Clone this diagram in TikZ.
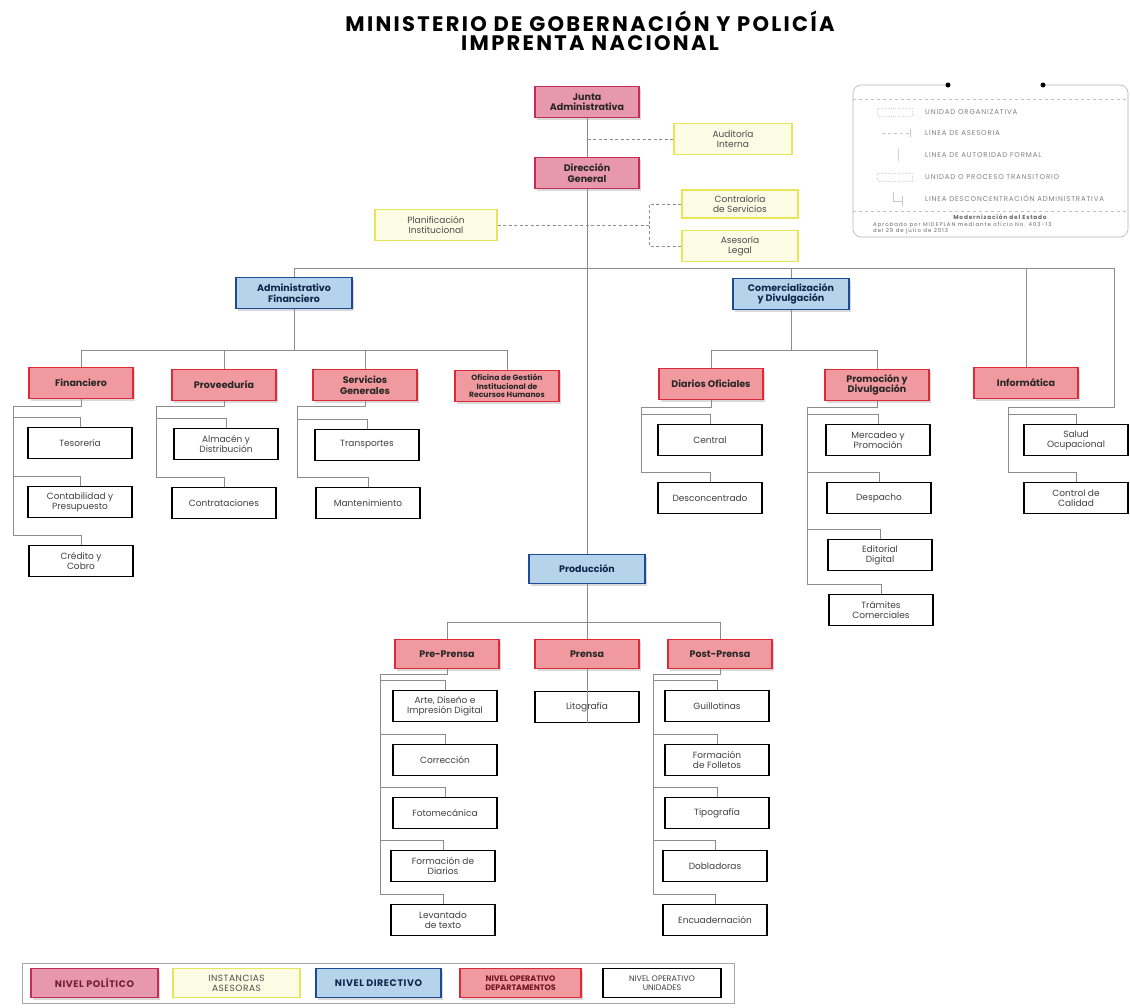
\documentclass[tikz,border=0pt]{standalone}
\usepackage{fontspec}
\setmainfont{Poppins}
\usetikzlibrary{shadows}

\definecolor{rosaF}{HTML}{E898AC}
\definecolor{rosaB}{HTML}{C22E58}
\definecolor{amarF}{HTML}{FCFCE4}
\definecolor{amarB}{HTML}{E6E65A}
\definecolor{azulF}{HTML}{B6D3EC}
\definecolor{azulB}{HTML}{1D4A94}
\definecolor{rojoF}{HTML}{F09AA0}
\definecolor{rojoB}{HTML}{DD2A3A}
\definecolor{lineaC}{HTML}{8C8C8C}

\tikzset{
  caja/.style={draw, align=center, inner sep=1pt, minimum width=104pt, minimum height=31pt,
    font=\fontsize{9}{10}\selectfont},
  sombra/.style={drop shadow={shadow xshift=2pt, shadow yshift=-2pt, opacity=0.3, fill=gray}},
  politico/.style={caja, sombra, fill=rosaF, draw=rosaB, line width=1.6pt, text=black!85,
    font=\fontsize{9.5}{10.5}\selectfont\bfseries},
  asesora/.style={caja, fill=amarF, draw=amarB, line width=1.4pt, text=black!70},
  directivo/.style={caja, sombra, fill=azulF, draw=azulB, line width=1.6pt, text=azulB!50!black,
    font=\fontsize{9.5}{10.5}\selectfont\bfseries},
  depto/.style={caja, sombra, fill=rojoF, draw=rojoB, line width=1.6pt, text=black!85,
    font=\fontsize{9.5}{10.5}\selectfont\bfseries},
  unidad/.style={caja, fill=white, draw=black, line width=1.6pt, text=black!75},
  linea/.style={draw=lineaC, line width=0.7pt},
  lineaasesora/.style={linea, dash pattern=on 3pt off 2.5pt},
  leyenda/.style={font=\fontsize{7}{8}\selectfont\addfontfeature{LetterSpace=12}, text=black!50,
    anchor=west, inner sep=0pt},
  nivel/.style={minimum height=29pt, font=\fontsize{9.5}{10.5}\selectfont\bfseries\addfontfeature{LetterSpace=6},
    drop shadow={opacity=0}},
}

\begin{document}
\begin{tikzpicture}[x=1pt,y=-1pt]
  \useasboundingbox (0,0) rectangle (1130,1007);

  % Titulo
  \node[align=center, font=\fontsize{21}{19}\selectfont\bfseries\addfontfeature{LetterSpace=11}] (titulo) at (590,31)
    {MINISTERIO DE GOBERNACIÓN Y POLICÍA\\IMPRENTA NACIONAL};

  % Nivel politico e instancias asesoras
  \node[politico] (junta) at (587,102) {Junta\\Administrativa};
  \node[politico] (direccion) at (587,173) {Dirección\\General};
  \node[asesora, minimum width=118pt] (auditoria) at (733,139) {Auditoría\\Interna};
  \node[asesora, minimum width=116pt, minimum height=28pt] (contraloria) at (740,204) {Contraloría\\de Servicios};
  \node[asesora, minimum width=122pt] (planificacion) at (436,225) {Planificación\\Institucional};
  \node[asesora, minimum width=116pt] (asesoria) at (740,246) {Asesoría\\Legal};

  % Nivel directivo
  \node[directivo, minimum width=116pt] (admin) at (294,293) {Administrativo\\Financiero};
  \node[directivo, minimum width=116pt] (comercial) at (791,294) {Comercialización\\y Divulgación};
  \node[directivo, minimum width=116pt, minimum height=29pt] (produccion) at (587,569) {Producción};

  % Departamentos
  \node[depto] (financiero) at (81,383) {Financiero};
  \node[depto] (proveeduria) at (224,385) {Proveeduría};
  \node[depto] (servicios) at (365,385) {Servicios\\Generales};
  \node[depto, font=\fontsize{7.6}{8.4}\selectfont\bfseries] (oficina) at (507,386)
    {Oficina de Gestión\\Institucional de\\Recursos Humanos};
  \node[depto] (diarios) at (711,384) {Diarios Oficiales};
  \node[depto] (promocion) at (877,385) {Promoción y\\Divulgación};
  \node[depto] (informatica) at (1026,383) {Informática};
  \node[depto, minimum height=29pt] (preprensa) at (447,654) {Pre-Prensa};
  \node[depto, minimum height=29pt] (prensa) at (587,654) {Prensa};
  \node[depto, minimum height=29pt] (postprensa) at (720,654) {Post-Prensa};

  % Unidades
  \node[unidad] (tesoreria) at (80,443) {Tesorería};
  \node[unidad] (contabilidad) at (80,502) {Contabilidad y\\Presupuesto};
  \node[unidad] (credito) at (81,561) {Crédito y\\Cobro};
  \node[unidad] (almacen) at (226,444) {Almacén y\\Distribución};
  \node[unidad] (contrataciones) at (224,503) {Contrataciones};
  \node[unidad] (transportes) at (367,445) {Transportes};
  \node[unidad] (mantenimiento) at (368,503) {Mantenimiento};
  \node[unidad] (central) at (710,440) {Central};
  \node[unidad] (desconcentrado) at (710,498) {Desconcentrado};
  \node[unidad] (mercadeo) at (878,440) {Mercadeo y\\Promoción};
  \node[unidad] (despacho) at (879,498) {Despacho};
  \node[unidad] (editorial) at (880,555) {Editorial\\Digital};
  \node[unidad] (tramites) at (881,610) {Trámites\\Comerciales};
  \node[unidad] (salud) at (1076,440) {Salud\\Ocupacional};
  \node[unidad] (calidad) at (1076,498) {Control de\\Calidad};
  \node[unidad] (litografia) at (587,707) {Litografía};
  \node[unidad] (arte) at (445,706) {Arte, Diseño e\\Impresión Digital};
  \node[unidad] (correccion) at (445,760) {Corrección};
  \node[unidad] (fotomecanica) at (445,813) {Fotomecánica};
  \node[unidad] (fdiarios) at (443,866) {Formación de\\Diarios};
  \node[unidad] (levantado) at (443,920) {Levantado\\de texto};
  \node[unidad] (guillotinas) at (717,706) {Guillotinas};
  \node[unidad] (folletos) at (717,760) {Formación\\de Folletos};
  \node[unidad] (tipografia) at (717,813) {Tipografía};
  \node[unidad] (dobladoras) at (715,866) {Dobladoras};
  \node[unidad] (encuadernacion) at (715,920) {Encuadernación};

  % Lineas de autoridad formal
  \coordinate (bus) at (587,268);
  \coordinate (busfin) at (1114,268);
  \draw[linea] (junta) -- (direccion);
  \draw[linea] (direccion) -- (produccion);
  \draw[linea] (admin.north) |- (busfin);
  \draw[linea] (comercial.north) -- (comercial.north |- bus);
  \draw[linea] (informatica.north) -- (informatica.north |- bus);

  \coordinate (ramaadm) at (294,350);
  \coordinate (ramacom) at (791,350);
  \coordinate (ramaprod) at (587,622);
  \draw[linea] (admin) -- (ramaadm);
  \draw[linea] (comercial) -- (ramacom);
  \draw[linea] (produccion) -- (prensa);
  \draw[linea] (prensa.south) -- (litografia.south);
  \foreach \d in {financiero,proveeduria,servicios,oficina}
    \draw[linea] (ramaadm) -| (\d.north);
  \foreach \d in {diarios,promocion}
    \draw[linea] (ramacom) -| (\d.north);
  \foreach \d in {preprensa,postprensa}
    \draw[linea] (ramaprod) -| (\d.north);

  % Rieles hacia las unidades
  \coordinate (riel-financiero) at (13,406);
  \coordinate (riel-proveeduria) at (156,406);
  \coordinate (riel-servicios) at (297,406);
  \coordinate (riel-diarios) at (641,407);
  \coordinate (riel-promocion) at (807,407);
  \coordinate (riel-preprensa) at (380,674);
  \coordinate (riel-postprensa) at (653,674);
  \foreach \p/\u in {financiero/tesoreria, financiero/contabilidad, financiero/credito,
      proveeduria/almacen, proveeduria/contrataciones,
      servicios/transportes, servicios/mantenimiento,
      diarios/central, diarios/desconcentrado,
      promocion/mercadeo, promocion/despacho, promocion/editorial, promocion/tramites,
      preprensa/arte, preprensa/correccion, preprensa/fotomecanica, preprensa/fdiarios, preprensa/levantado,
      postprensa/guillotinas, postprensa/folletos, postprensa/tipografia, postprensa/dobladoras, postprensa/encuadernacion}
    \draw[linea] (\p.south) |- (riel-\p) |- ([yshift=9pt]\u.north) -- (\u.north);

  \coordinate (riel-inf) at (1008,407);
  \draw[linea] (busfin) |- (riel-inf);
  \foreach \u in {salud,calidad}
    \draw[linea] (riel-inf) |- ([yshift=9pt]\u.north) -- (\u.north);

  % Lineas de asesoria
  \coordinate (asr) at (649,225);
  \draw[lineaasesora] (auditoria.west) -- (auditoria.west -| junta.south);
  \draw[lineaasesora] (planificacion.east) -- (asr);
  \draw[lineaasesora] (contraloria.west) -| (asr);
  \draw[lineaasesora] (asesoria.west) -| (asr);

  % Cuadro de simbologia
  \draw[gray!60, line width=0.6pt, rounded corners=8pt]
    (948,85) -- (853,85) -- (853,237) -- (1128,237) -- (1128,85) -- (1043,85);
  \fill[black] (948,85) circle (2.5pt) (1043,85) circle (2.5pt);
  \draw[gray!50, dashed] (853,99) -- (1128,99);
  \draw[gray!50, dashed] (853,211) -- (1128,211);
  \draw[gray!35, dotted] (877,108) rectangle (912,116);
  \draw[gray!45, dashed] (882,133) -- (910,133);
  \draw[gray!45] (910,129) -- (910,137);
  \draw[gray!35] (898,148) -- (898,161);
  \draw[gray!35, dotted] (877,173) rectangle (912,181);
  \draw[gray!45] (893,192) -- (893,201) -- (902,201) (902,196) -- (902,206);
  \node[leyenda] (l1) at (925,112) {UNIDAD ORGANIZATIVA};
  \node[leyenda] (l2) at (925,133) {LINEA DE ASESORIA};
  \node[leyenda] (l3) at (925,155) {LINEA DE AUTORIDAD FORMAL};
  \node[leyenda] (l4) at (925,177) {UNIDAD O PROCESO TRANSITORIO};
  \node[leyenda] (l5) at (925,198) {LINEA DESCONCENTRACIÓN ADMINISTRATIVA};
  \node[leyenda, anchor=center, font=\fontsize{5.8}{6}\selectfont\bfseries\addfontfeature{LetterSpace=14},
    text=black!60] (moder) at (1000,217.5) {Modernización del Estado};
  \node[leyenda, text=black!60, align=left, anchor=north west,
    font=\fontsize{5.4}{6.6}\selectfont\addfontfeature{LetterSpace=18}] (aprob) at (873,222)
    {Aprobado por MIDEPLAN mediante oficio No. 403-13\\del 29 de julio de 2013};

  % Niveles (pie)
  \draw[gray!70, line width=0.8pt] (22,963) rectangle (734,1003);
  \node[politico, nivel, minimum width=127pt, text=rosaB!60!black] (npol) at (94.5,983) {NIVEL POLÍTICO};
  \node[asesora, nivel, minimum width=127pt, font=\fontsize{9}{10}\selectfont\addfontfeature{LetterSpace=6}]
    (nase) at (236.5,983) {INSTANCIAS\\ASESORAS};
  \node[directivo, nivel, minimum width=125pt] (ndir) at (378.5,983) {NIVEL DIRECTIVO};
  \node[depto, nivel, minimum width=121pt, font=\fontsize{8}{9}\selectfont\bfseries,
    text=rojoB!50!black] (ndep) at (520.5,983) {NIVEL OPERATIVO\\DEPARTAMENTOS};
  \node[unidad, nivel, minimum width=118pt, font=\fontsize{8}{9}\selectfont] (nuni) at (662,983)
    {NIVEL OPERATIVO\\UNIDADES};
\end{tikzpicture}
\end{document}
